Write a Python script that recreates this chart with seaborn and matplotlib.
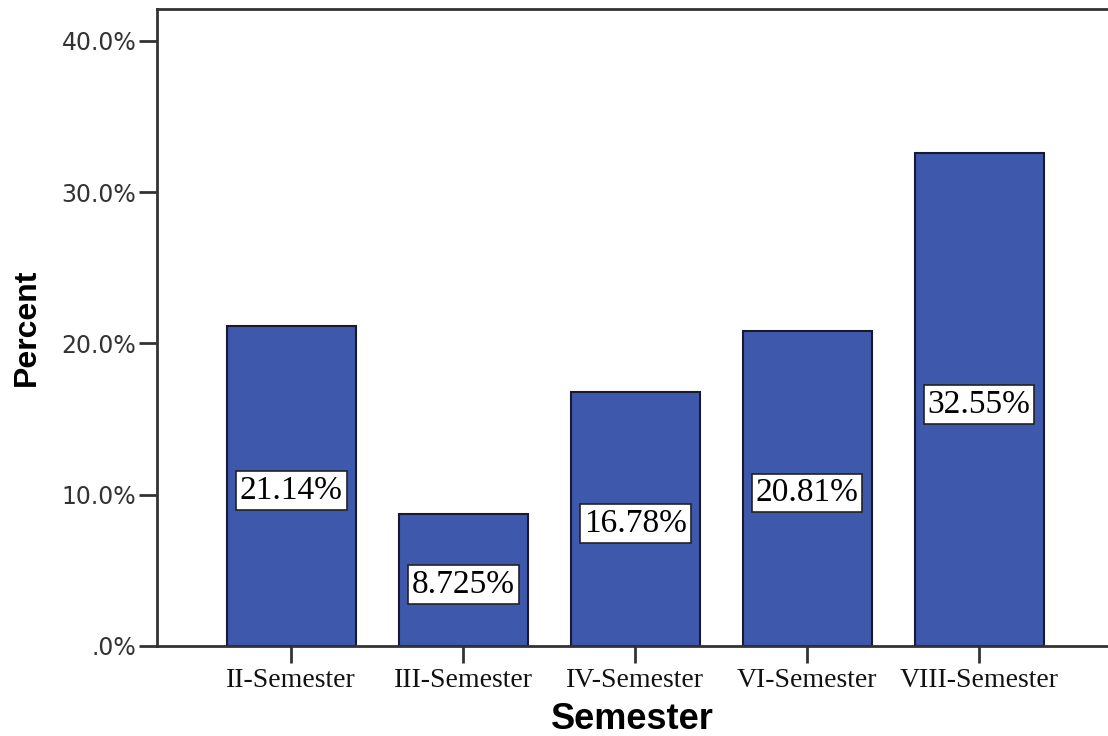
import pandas as pd
import matplotlib.pyplot as plt
import seaborn as sns

semestres = ["II-Semester", "III-Semester", "IV-Semester", "VI-Semester", "VIII-Semester"]
porcentajes = [21.14, 8.725, 16.78, 20.81, 32.55]
etiquetas = ["21.14%", "8.725%", "16.78%", "20.81%", "32.55%"]
yticks = [0, 10, 20, 30, 40]
yticklabels = [".0%", "10.0%", "20.0%", "30.0%", "40.0%"]

datos = pd.DataFrame({"Semester": semestres, "Percent": porcentajes})

sns.set_style("white")
fig = plt.figure(figsize=(11.08, 7.36), dpi=100)
ax = fig.add_axes([0.1417, 0.1223, 0.8583, 0.8655])

sns.barplot(data=datos, x="Semester", y="Percent", color="#3e58ac",
            saturation=1, width=0.75, edgecolor="#1a1a2e", linewidth=1.5, ax=ax)

# etiquetas en el medio de cada barra
for i, (v, t) in enumerate(zip(porcentajes, etiquetas)):
    ax.text(i, v / 2 - 0.3, t, ha="center", va="center", fontsize=24,
            family="Liberation Serif", color="black",
            bbox=dict(boxstyle="square,pad=0.12", fc="white", ec="#222222", lw=1.2))

ax.set_xlim(-0.78, 4.75)
ax.set_ylim(0, 42.1)
ax.set_yticks(yticks)
ax.set_yticklabels(yticklabels, family="DejaVu Sans", fontsize=17, color="#333333")
ax.set_xticks(range(len(semestres)))
ax.set_xticklabels(semestres, family="Liberation Serif", fontsize=20, color="#111111")
ax.tick_params(axis="both", direction="out", length=13, width=2, color="#333333",
               bottom=True, left=True)
ax.tick_params(axis="y", pad=2)
ax.tick_params(axis="x", length=12, pad=4)

for s in ["left", "top", "bottom"]:
    ax.spines[s].set_color("#333333")
    ax.spines[s].set_linewidth(2)
ax.spines["right"].set_visible(False)

ax.set_xlabel("Semester", fontsize=26, fontweight="bold", family="Liberation Sans",
              labelpad=6, color="black")
ax.set_ylabel("Percent", fontsize=23, fontweight="bold", family="Liberation Sans",
              labelpad=14, color="black")

plt.savefig("out.png", dpi=100)
